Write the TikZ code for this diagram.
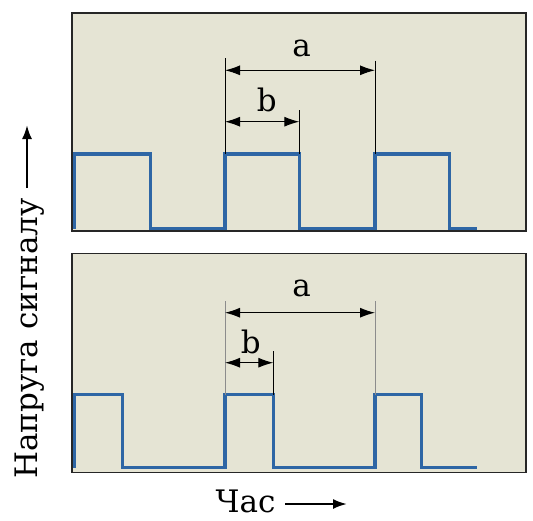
\documentclass[tikz,border=0pt]{standalone}
\usepackage{fontspec}
\setmainfont{DejaVu Serif}
\newfontfamily\labelfont{DejaVu Serif}
\usetikzlibrary{arrows.meta}
\definecolor{panelfill}{RGB}{229,228,212}
\definecolor{wave}{RGB}{46,102,165}

\begin{document}
\begin{tikzpicture}[
  x=0.5pt, y=-0.5pt,
  font=\labelfont\fontsize{15.5}{19}\selectfont,
  panel/.style={draw=black!85, line width=0.8pt, fill=panelfill},
  signal/.style={draw=wave, line width=1.6pt, line join=miter},
  extline/.style={black, line width=0.5pt},
  faintline/.style={black!45, line width=0.35pt},
  dim/.style={{Latex[length=7.5pt,width=5pt]}-{Latex[length=7.5pt,width=5pt]}, line width=0.5pt},
  axisarrow/.style={-{Latex[length=7pt,width=5pt]}, line width=1.1pt}
]
\useasboundingbox (0,0) rectangle (533,520);

% upper panel
\draw[panel] (71.7,12.7) rectangle (525.7,231);
\draw[signal] (74.7,228.7) -- (74.7,154) -- (150.7,154) -- (150.7,228.7) -- (225,228.7)
  -- (225,154) -- (299.3,154) -- (299.3,228.7) -- (375,228.7) -- (375,154)
  -- (449.3,154) -- (449.3,228.7) -- (477.3,228.7);
\coordinate (upA1) at (225,70.3);
\coordinate (upA2) at (375,70.3);
\coordinate (upB1) at (225,121.7);
\coordinate (upB2) at (299.3,121.7);
\draw[extline] (225,58) -- (225,154);
\draw[extline] (375,60.7) -- (375,154);
\draw[extline] (299.3,110) -- (299.3,154);
\draw[dim] (upA1) -- (upA2);
\draw[dim] (upB1) -- (upB2);
\node (upa) at (301.7,48) {a};
\node (upb) at (266.7,100) {b};

% lower panel
\draw[panel] (71.7,253.3) rectangle (525.7,472.3);
\draw[signal] (74.7,467.7) -- (74.7,394.7) -- (122.7,394.7) -- (122.7,467.7) -- (225,467.7)
  -- (225,394.7) -- (273.3,394.7) -- (273.3,467.7) -- (375,467.7) -- (375,394.7)
  -- (421.7,394.7) -- (421.7,467.7) -- (477.3,467.7);
\coordinate (loA1) at (225,312.7);
\coordinate (loA2) at (375,312.7);
\coordinate (loB1) at (225,362.7);
\coordinate (loB2) at (273.3,362.7);
\draw[faintline] (225,301) -- (225,394.7);
\draw[faintline] (375,301) -- (375,394.7);
\draw[extline] (273.3,351) -- (273.3,394.7);
\draw[dim] (loA1) -- (loA2);
\draw[dim] (loB1) -- (loB2);
\node (loa) at (301.7,288.3) {a};
\node (lob) at (250.7,341.7) {b};

% axis labels
\node[rotate=90] (ylabel) at (30,338.5) {Напруга сигналу};
\coordinate (yfrom) at (27,188);
\coordinate (yto) at (27,125);
\draw[axisarrow] (yfrom) -- (yto);
\node (xlabel) at (245.5,501) {Час};
\coordinate (xfrom) at (285,504);
\coordinate (xto) at (347,504);
\draw[axisarrow] (xfrom) -- (xto);

\end{tikzpicture}
\end{document}
